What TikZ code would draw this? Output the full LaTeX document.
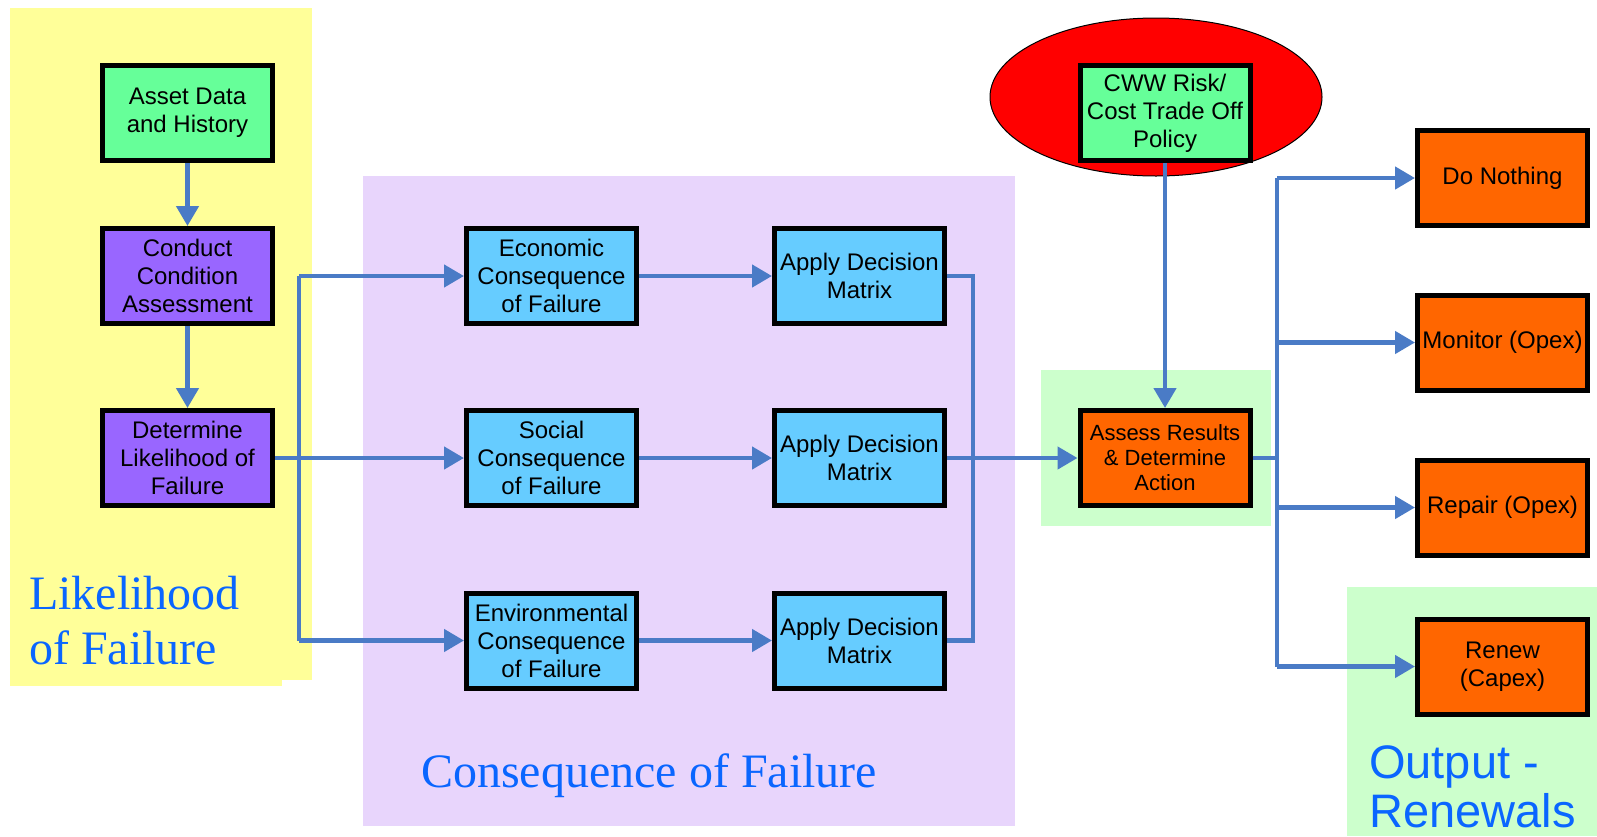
\documentclass[tikz,border=0pt]{standalone}
\usepackage{fontspec}
\setmainfont{Liberation Sans}
\newfontfamily\titleserif{Liberation Serif}
\usetikzlibrary{arrows.meta,shapes.geometric}
\definecolor{boxgreen}{HTML}{66FF99}
\definecolor{boxpurple}{HTML}{9966FF}
\definecolor{boxblue}{HTML}{66CCFF}
\definecolor{boxorange}{HTML}{FF6600}
\definecolor{bgyellow}{HTML}{FFFF99}
\definecolor{bglav}{HTML}{E8D5FC}
\definecolor{bggreen}{HTML}{CCFFCC}
\definecolor{conn}{HTML}{4A7BC6}
\definecolor{titleblue}{HTML}{0A66FF}
\begin{document}
\begin{tikzpicture}[x=1pt,y=-1pt,
  box/.style={draw=black,line width=5pt,minimum width=170pt,minimum height=95pt,
    align=center,inner sep=2pt,font=\fontsize{24}{28}\selectfont},
  smallbox/.style={box,font=\fontsize{22}{25}\selectfont},
  ln/.style={draw=conn,line width=4.5pt},
  arr/.style={ln,-{Triangle[length=20pt,width=22pt]}},
  title/.style={anchor=base west,inner sep=0pt,text=titleblue}]
\useasboundingbox (0,0) rectangle (1597,836);
% background regions
\fill[bgyellow] (10,8) rectangle (312,680);
\fill[bgyellow] (10,680) rectangle (282,686);
\fill[bglav] (363,176) rectangle (1015,826);
\fill[bggreen] (1041,370) rectangle (1271,526);
\fill[bggreen] (1347,587) rectangle (1597,836);
% oval
\node[ellipse,draw=black,line width=1pt,fill=red,minimum width=332pt,minimum height=158pt] (oval) at (1156,97) {};
% boxes
\node[box,fill=boxgreen] (asset) at (187.5,113) {Asset Data\\and History};
\node[box,fill=boxpurple] (conduct) at (187.5,276) {Conduct\\Condition\\Assessment};
\node[box,fill=boxpurple] (determine) at (187.5,458) {Determine\\Likelihood of\\Failure};
\node[box,fill=boxblue] (econ) at (551.5,276) {Economic\\Consequence\\of Failure};
\node[box,fill=boxblue] (social) at (551.5,458) {Social\\Consequence\\of Failure};
\node[box,fill=boxblue] (env) at (551.5,640.5) {Environmental\\Consequence\\of Failure};
\node[box,fill=boxblue] (apply1) at (859.5,276) {Apply Decision\\Matrix};
\node[box,fill=boxblue] (apply2) at (859.5,458) {Apply Decision\\Matrix};
\node[box,fill=boxblue] (apply3) at (859.5,640.5) {Apply Decision\\Matrix};
\node[box,fill=boxgreen] (cww) at (1165,113) {CWW Risk/\\Cost Trade Off\\Policy};
\node[smallbox,fill=boxorange] (assess) at (1165,458) {Assess Results\\\&~Determine\\Action};
\node[box,fill=boxorange] (donothing) at (1502.5,178) {Do Nothing};
\node[box,fill=boxorange] (monitor) at (1502.5,342.5) {Monitor (Opex)};
\node[box,fill=boxorange] (repair) at (1502.5,507.5) {Repair (Opex)};
\node[box,fill=boxorange] (renew) at (1502.5,666.5) {Renew\\(Capex)};
% titles
\node[title,font=\titleserif\fontsize{48}{48}\selectfont] (t1) at (29,609) {Likelihood};
\node[title,font=\titleserif\fontsize{48}{48}\selectfont] (t2) at (29,664) {of Failure};
\node[title,font=\titleserif\fontsize{48}{48}\selectfont] (t3) at (421,787) {Consequence of Failure};
\node[title,font=\fontsize{47}{47}\selectfont] (t4) at (1369,778) {Output -};
\node[title,font=\fontsize{47}{47}\selectfont] (t5) at (1369,827) {Renewals};
% connectors
\draw[arr] (asset) -- (conduct);
\draw[arr] (conduct) -- (determine);
\coordinate (lb1) at (299,276);
\coordinate (lb3) at (299,640.5);
\draw[ln] (lb1) -- (lb3);
\draw[arr] (determine) -- (social);
\draw[arr] (lb1) -- (econ);
\draw[arr] (lb3) -- (env);
\draw[arr] (econ) -- (apply1);
\draw[arr] (social) -- (apply2);
\draw[arr] (env) -- (apply3);
\coordinate (rb1) at (973,276);
\coordinate (rb3) at (973,640.5);
\draw[ln] (apply1.east) -- (rb1) -- (rb3) -- (apply3.east);
\draw[arr] (apply2) -- (assess);
\draw[arr] (cww) -- (assess);
\coordinate (ob0) at (1277,458);
\coordinate (ob1) at (1277,178);
\coordinate (ob2) at (1277,342.5);
\coordinate (ob3) at (1277,507.5);
\coordinate (ob4) at (1277,666.5);
\draw[ln] (assess.east) -- (ob0);
\draw[ln] (ob1) -- (ob4);
\draw[arr] (ob1) -- (donothing);
\draw[arr] (ob2) -- (monitor);
\draw[arr] (ob3) -- (repair);
\draw[arr] (ob4) -- (renew);
\end{tikzpicture}
\end{document}
